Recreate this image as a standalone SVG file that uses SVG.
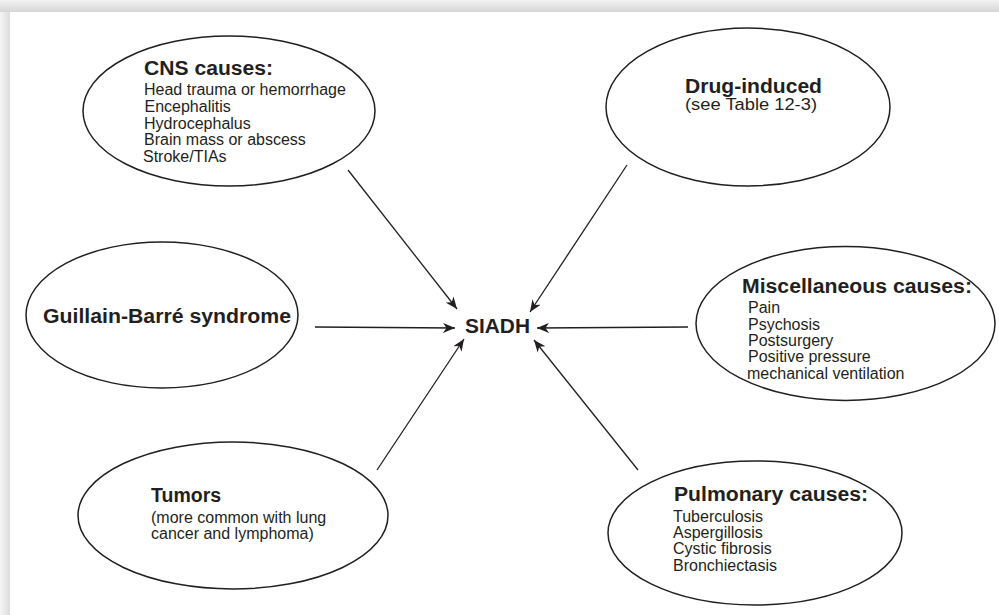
<svg xmlns="http://www.w3.org/2000/svg" width="999" height="615" viewBox="0 0 999 615">
  <defs>
    <linearGradient id="shadeTop" x1="0" y1="0" x2="0" y2="1">
      <stop offset="0" stop-color="#f3f3f3"/>
      <stop offset="1" stop-color="#d6d6d6"/>
    </linearGradient>
    <linearGradient id="shadeLeft" x1="0" y1="0" x2="1" y2="0">
      <stop offset="0" stop-color="#f6f6f6"/>
      <stop offset="1" stop-color="#dcdcdc"/>
    </linearGradient>
    <marker id="arrow" viewBox="0 0 12 10" markerWidth="12" markerHeight="10" refX="12" refY="5" orient="auto" markerUnits="userSpaceOnUse">
      <path d="M0,0 L12,5 L0,10 L3.5,5 Z" fill="#231f20"/>
    </marker>
    <style>
      .bubble { fill: #ffffff; stroke: #231f20; stroke-width: 1.5; }
      .link { stroke: #231f20; stroke-width: 1.3; fill: none; marker-end: url(#arrow); }
      .head { font-family: "Liberation Sans", Arial, sans-serif; font-weight: bold; font-size: 19.5px; fill: #231f20; }
      .item { font-family: "Liberation Sans", Arial, sans-serif; font-size: 16px; fill: #231f20; }
    </style>
  </defs>

  <!-- page backdrop with soft shadow along top and left edges -->
  <rect x="0" y="0" width="999" height="615" fill="#ffffff"/>
  <rect x="0" y="0" width="10" height="615" fill="url(#shadeLeft)"/>
  <rect x="0" y="0" width="999" height="12" fill="url(#shadeTop)"/>

  <g id="connectors">
    <line class="link" x1="348" y1="170" x2="457" y2="309"/>
    <line class="link" x1="627" y1="165" x2="530" y2="312"/>
    <line class="link" x1="315" y1="327" x2="455" y2="328"/>
    <line class="link" x1="688" y1="327" x2="537" y2="328"/>
    <line class="link" x1="377" y1="470" x2="464" y2="339"/>
    <line class="link" x1="638" y1="470" x2="534" y2="340"/>
  </g>

  <g id="siadh">
    <text class="head" x="465" y="333" textLength="65" lengthAdjust="spacingAndGlyphs">SIADH</text>
  </g>

  <g id="cns">
    <ellipse class="bubble" cx="229" cy="111" rx="146" ry="75"/>
    <text class="head" x="144" y="75" textLength="129" lengthAdjust="spacingAndGlyphs">CNS causes:</text>
    <text class="item" x="144" y="95">Head trauma or hemorrhage</text>
    <text class="item" x="144.5" y="112">Encephalitis</text>
    <text class="item" x="144" y="128.5">Hydrocephalus</text>
    <text class="item" x="144" y="145">Brain mass or abscess</text>
    <text class="item" x="143" y="161.5">Stroke/TIAs</text>
  </g>

  <g id="drug">
    <ellipse class="bubble" cx="748" cy="107" rx="142" ry="79"/>
    <text class="head" x="685" y="93" textLength="137" lengthAdjust="spacingAndGlyphs">Drug-induced</text>
    <text class="item" x="685" y="110" font-size="16.5" textLength="132" lengthAdjust="spacingAndGlyphs">(see Table 12-3)</text>
  </g>

  <g id="guillain">
    <ellipse class="bubble" cx="162" cy="315" rx="136" ry="73"/>
    <text class="head" x="43" y="323" textLength="248" lengthAdjust="spacingAndGlyphs">Guillain-Barré syndrome</text>
  </g>

  <g id="misc">
    <ellipse class="bubble" cx="845.5" cy="323.5" rx="149.5" ry="77"/>
    <text class="head" x="742" y="293" textLength="230" lengthAdjust="spacingAndGlyphs">Miscellaneous causes:</text>
    <text class="item" x="748" y="312.5">Pain</text>
    <text class="item" x="748" y="329.5">Psychosis</text>
    <text class="item" x="748" y="345.5">Postsurgery</text>
    <text class="item" x="748" y="362">Positive pressure</text>
    <text class="item" x="747" y="378.5">mechanical ventilation</text>
  </g>

  <g id="tumors">
    <ellipse class="bubble" cx="233" cy="515.5" rx="155" ry="73.5"/>
    <text class="head" x="151" y="502">Tumors</text>
    <text class="item" x="151" y="523">(more common with lung</text>
    <text class="item" x="151" y="539">cancer and lymphoma)</text>
  </g>

  <g id="pulmonary">
    <ellipse class="bubble" cx="755" cy="533" rx="147" ry="72"/>
    <text class="head" x="674" y="501" textLength="194" lengthAdjust="spacingAndGlyphs">Pulmonary causes:</text>
    <text class="item" x="673" y="521.5">Tuberculosis</text>
    <text class="item" x="673" y="537.5">Aspergillosis</text>
    <text class="item" x="673" y="554">Cystic fibrosis</text>
    <text class="item" x="673" y="571">Bronchiectasis</text>
  </g>
</svg>
